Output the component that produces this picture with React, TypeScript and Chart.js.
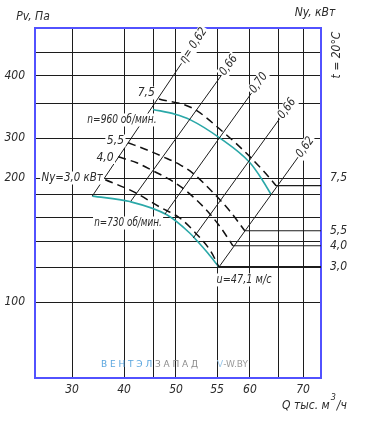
import React, { useEffect, useRef } from 'react';
import { Chart, LinearScale, registerables } from 'chart.js';

// ---------- axis grid ----------
const xTicks = [30, 40, 45, 50, 55, 60, 65, 70];
const xTickLabels = ['30', '40', '', '50', '55', '60', '', '70'];
const yTicks = [100, 120, 140, 160, 180, 200, 300, 350, 400, 450];
const yTickLabels = ['100', '', '', '', '', '200', '300', '', '400', ''];
const X_MIN = 23, X_MAX = 74, Y_MIN = 60, Y_MAX = 500;

// ---------- fan curves (Q, thousand m3/h ; Pv, Pa) ----------
const q960 = [45.0, 49.8, 51.7, 55.5, 60.0, 62.1, 63.6];
const p960 = [342, 335, 327, 299, 238, 198, 181];
const q730 = [33.9, 41.0, 48.0, 51.7, 52.7, 53.9, 55.3];
const p730 = [179, 174, 162, 147, 140, 131, 120];

// ---------- power isolines Ny, kW ----------
const qNy75 = [46.3, 52.0, 55.9, 59.7, 62.8, 64.5];
const pNy75 = [359, 344, 309, 258, 210, 191];
const qNy55 = [40.7, 44.0, 47.2, 50.5, 52.0, 54.8, 57.0, 59.2];
const pNy55 = [288, 270, 253, 233, 213, 180, 165, 149];
const qNy40 = [38.9, 42.2, 45.0, 48.7, 51.1, 53.5, 55.5, 57.4];
const pNy40 = [253, 238, 218, 198, 186, 168, 152, 137];
const qNy30 = [36.4, 41.6, 46.5, 50.5, 52.7, 54.2, 55.3];
const pNy30 = [198, 184, 169, 159, 145, 133, 120];
const nyRightLabels = ['7,5', '5,5', '4,0', '3,0'];
const nyRightLabelP = [200, 149, 137, 120];

// ---------- efficiency lines ----------
const etaLabels = ['η= 0,62', '0,66', '0,70', '0,66', '0,62'];
const etaQ0 = [33.9, 41.2, 47.6, 52.1, 55.3];
const etaP0 = [179, 174.5, 162.7, 143.2, 120];
const etaQ1 = [50.7, 55.7, 60.3, 65.2, 69.0];
const etaP1 = [427, 402, 370, 329, 252.5];

// ---------- in-plot texts ----------
const plotTexts = ['n=960 об/мин.', 'n=730 об/мин.', '7,5', '5,5', '4,0', 'Ny=3,0 кВт', 'u=47,1 м/с'];
const plotTextQ = [39.6, 40.7, 45.4, 40.0, 38.0, 35.9, 59.1];
const plotTextP = [326.5, 155.2, 369.6, 292.5, 251.3, 200, 112.6];
const plotTextAlign = ['center', 'center', 'right', 'right', 'right', 'right', 'center'];
const plotTextStretch = [0.84, 0.82, 1, 1, 1, 0.95, 0.9];

// ---------- axis definition (value -> fraction of axis length) ----------
const X_NODES = [[23, 0], [30, 0.1294], [40, 0.3112], [45, 0.4126], [50, 0.493], [55, 0.6364], [60, 0.7517], [65, 0.8531], [70, 0.9371], [74, 1]];
const Y_NODES = [[60, 0], [100, 0.2171], [120, 0.3171], [140, 0.3886], [160, 0.46], [180, 0.5229], [200, 0.5714], [300, 0.6857], [350, 0.7829], [400, 0.8629], [450, 0.9314], [500, 1]];
const NODES: Record<string, number[][]> = { x: X_NODES, y: Y_NODES };

function interp(nodes: number[][], v: number, a: number, b: number) {
  let i = 0;
  while (i < nodes.length - 2 && v > nodes[i + 1][a]) i++;
  const n0 = nodes[i], n1 = nodes[i + 1];
  return n0[b] + ((v - n0[a]) * (n1[b] - n0[b])) / (n1[a] - n0[a]);
}

class PiecewiseScale extends LinearScale {
  static id = 'piecewise';
  static defaults = LinearScale.defaults;
  getPixelForValue(value: number) {
    if (value == null || isNaN(value)) return NaN;
    return this.getPixelForDecimal(interp(NODES[(this as any).id], value, 0, 1));
  }
  getValueForPixel(pixel: number) {
    return interp(NODES[(this as any).id], this.getDecimalForPixel(pixel), 1, 0);
  }
}

Chart.register(...registerables, PiecewiseScale as any);

const FONT = '"Liberation Sans Narrow", "DejaVu Sans Condensed", "Liberation Sans", sans-serif';
const TEXT = '#2b2b2b';
const CYAN = '#2aa8a8';
const GRID = '#1c1c1c';
const BLUE = '#5252ff';

const pts = (q: number[], p: number[]) => q.map((v, i) => ({ x: v, y: p[i] }));

function boxText(ctx: CanvasRenderingContext2D, text: string, x: number, y: number, align: string, stretch = 1) {
  ctx.save();
  ctx.translate(x, y);
  ctx.scale(stretch, 1);
  ctx.textAlign = align as CanvasTextAlign;
  ctx.textBaseline = 'middle';
  const w = ctx.measureText(text).width;
  const x0 = align === 'left' ? 0 : align === 'right' ? -w : -w / 2;
  ctx.fillStyle = '#fff';
  ctx.fillRect(x0 - 1.5, -6.5, w + 3, 13);
  ctx.fillStyle = TEXT;
  ctx.fillText(text, 0, 0);
  ctx.restore();
}

const decorPlugin = {
  id: 'decor',
  beforeDraw(chart: any) {
    const ctx = chart.ctx;
    ctx.save();
    ctx.fillStyle = '#fff';
    ctx.fillRect(0, 0, chart.width, chart.height);
    ctx.restore();
  },
  beforeDatasetsDraw(chart: any) {
    const { ctx, chartArea: a } = chart;
    ctx.save();
    ctx.strokeStyle = BLUE;
    ctx.lineWidth = 2;
    ctx.strokeRect(a.left, a.top, a.right - a.left, a.bottom - a.top);
    ctx.restore();
  },
  afterDatasetsDraw(chart: any) {
    const { ctx, scales } = chart;
    const xs = scales.x, ys = scales.y;
    ctx.save();
    ctx.font = `italic 12px ${FONT}`;
    plotTexts.forEach((t, i) => {
      boxText(ctx, t, xs.getPixelForValue(plotTextQ[i]), ys.getPixelForValue(plotTextP[i]), plotTextAlign[i], plotTextStretch[i]);
    });
    etaLabels.forEach((t, i) => {
      const x0 = xs.getPixelForValue(etaQ0[i]), y0 = ys.getPixelForValue(etaP0[i]);
      const x1 = xs.getPixelForValue(etaQ1[i]), y1 = ys.getPixelForValue(etaP1[i]);
      const ang = Math.atan2(y1 - y0, x1 - x0);
      ctx.save();
      ctx.translate(x1, y1);
      ctx.rotate(ang);
      boxText(ctx, t, 1, 0, 'left', 0.92);
      ctx.restore();
    });
    ctx.restore();
  },
  afterDraw(chart: any) {
    const { ctx, scales } = chart;
    const ys = scales.y;
    ctx.save();
    ctx.fillStyle = TEXT;
    ctx.font = `italic 12px ${FONT}`;
    ctx.textBaseline = 'middle';
    ctx.textAlign = 'center';
    ctx.fillText('Pv, Па', 33, 17);
    ctx.fillText('Ny, кВт', 315, 13);
    ctx.textAlign = 'left';
    nyRightLabels.forEach((t, i) => ctx.fillText(t, 330, ys.getPixelForValue(nyRightLabelP[i])));
    // Q axis title
    let x = 282;
    const s1 = 'Q тыс. м';
    ctx.fillText(s1, x, 406);
    x += ctx.measureText(s1).width + 1;
    ctx.font = `italic 9px ${FONT}`;
    ctx.fillText('3', x, 398);
    x += ctx.measureText('3').width + 1;
    ctx.font = `italic 12px ${FONT}`;
    ctx.fillText('/ч', x, 406);
    // temperature
    ctx.save();
    ctx.translate(337, 55);
    ctx.rotate(-Math.PI / 2);
    ctx.textAlign = 'center';
    ctx.fillText('t = 20°C', 0, 0);
    ctx.restore();
    // watermark
    ctx.font = '9px "DejaVu Sans", sans-serif';
    (ctx as any).letterSpacing = '2.8px';
    ctx.textAlign = 'left';
    let wx = 101;
    ctx.fillStyle = '#5aa6df';
    ctx.fillText('ВЕНТЭЛ', wx, 365);
    wx += ctx.measureText('ВЕНТЭЛ').width;
    ctx.fillStyle = '#8c8c8c';
    ctx.fillText('ЗАПАД', wx, 365);
    (ctx as any).letterSpacing = '0px';
    ctx.fillStyle = '#9cc8ea';
    ctx.fillText('V', 217, 365);
    ctx.fillStyle = '#9a9a9a';
    ctx.fillText('-W.BY', 217 + ctx.measureText('V').width, 365);
    ctx.restore();
  },
};

export default function App() {
  const ref = useRef<HTMLCanvasElement>(null);
  useEffect(() => {
    const curve = (q: number[], p: number[], color: string, width: number, dash: number[]) => ({
      data: pts(q, p),
      borderColor: color,
      borderWidth: width,
      borderDash: dash,
      cubicInterpolationMode: 'monotone',
      tension: 0.4,
      fill: false,
      pointRadius: 0,
    });
    const straight = (q: number[], p: number[], width: number) => ({
      data: pts(q, p),
      borderColor: GRID,
      borderWidth: width,
      tension: 0,
      fill: false,
      pointRadius: 0,
    });
    const dashed = [8, 5];
    const nyQ = [qNy75, qNy55, qNy40, qNy30];
    const nyP = [pNy75, pNy55, pNy40, pNy30];
    const datasets: any[] = [
      ...nyQ.map((q, i) => curve(q, nyP[i], '#111', 1.5, dashed)),
      ...nyQ.map((q, i) => straight([q[q.length - 1], X_MAX], [nyP[i][nyP[i].length - 1], nyP[i][nyP[i].length - 1]], i === 3 ? 2 : 1.2)),
      ...etaQ0.map((q, i) => straight([q, etaQ1[i]], [etaP0[i], etaP1[i]], 1)),
      curve(q960, p960, CYAN, 1.6, []),
      curve(q730, p730, CYAN, 1.6, []),
    ];
    const tickFont = { family: FONT, size: 12, style: 'italic' as const };
    const chart = new Chart(ref.current!, {
      type: 'line',
      data: { datasets },
      options: {
        animation: false,
        responsive: true,
        maintainAspectRatio: false,
        events: [],
        layout: { padding: { top: 28, right: 57, left: 0, bottom: 0 } },
        plugins: { legend: { display: false }, tooltip: { enabled: false } },
        scales: {
          x: {
            type: 'piecewise' as any,
            min: X_MIN,
            max: X_MAX,
            afterBuildTicks: (axis: any) => { axis.ticks = xTicks.map((v) => ({ value: v })); },
            afterFit: (axis: any) => { axis.height = 48; },
            grid: { color: GRID, lineWidth: 1, drawTicks: false },
            border: { display: false },
            ticks: {
              autoSkip: false,
              maxRotation: 0,
              padding: 5,
              color: TEXT,
              font: tickFont,
              callback: (v: any) => xTickLabels[xTicks.indexOf(Number(v))] ?? '',
            },
          },
          y: {
            type: 'piecewise' as any,
            position: 'left',
            min: Y_MIN,
            max: Y_MAX,
            afterBuildTicks: (axis: any) => { axis.ticks = yTicks.map((v) => ({ value: v })); },
            afterFit: (axis: any) => { axis.width = 35; },
            grid: { color: GRID, lineWidth: 1, drawTicks: false },
            border: { display: false },
            ticks: {
              autoSkip: false,
              padding: 10,
              color: TEXT,
              font: tickFont,
              callback: (v: any) => yTickLabels[yTicks.indexOf(Number(v))] ?? '',
            },
          },
        } as any,
      },
      plugins: [decorPlugin],
    });
    return () => chart.destroy();
  }, []);
  return (
    <div style={{ position: 'fixed', left: 0, top: 0, width: 378, height: 426, background: '#fff' }}>
      <canvas ref={ref} />
    </div>
  );
}
